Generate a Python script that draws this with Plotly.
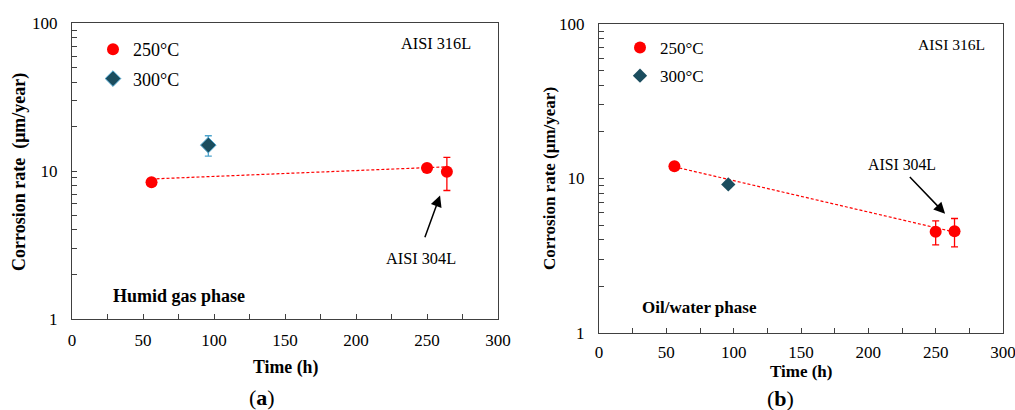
import plotly.graph_objects as go

W, H = 1015, 410

# ---------------- data ----------------
# (a) Humid gas phase
a_250_time = [56, 250, 264]
a_250_rate = [8.4, 10.5, 9.9]
a_250_err = [0, 0, 2.5]
a_300_time = [96]
a_300_rate = [15.0]
a_300_err = [2.35]
a_trend_time = [56, 264]
a_trend_rate = [8.85, 10.7]

# (b) Oil/water phase
b_250_time = [56, 250, 264]
b_250_rate = [12.0, 4.52, 4.56]
b_250_err = [0, 0.8, 0.95]
b_300_time = [96]
b_300_rate = [9.15]
b_trend_time = [56, 264]
b_trend_rate = [11.9, 4.5]

x_ticks = [0, 50, 100, 150, 200, 250, 300]
y_ticks = [1, 10, 100]
y_minor = [2, 3, 4, 5, 6, 7, 8, 9, 20, 30, 40, 50, 60, 70, 80, 90]

RED = "#FF0000"
TEAL = "#1B4D5E"
LIGHTBLUE = "#4DA3CC"
FONT = "'Liberation Serif', 'Times New Roman', serif"
AXC = "#404040"


def px(x, y):
    return x / W, 1 - y / H


fig = go.Figure()

# ---- panel (a) ----
fig.add_trace(go.Scatter(x=a_trend_time, y=a_trend_rate, mode="lines",
                         line=dict(color=RED, width=1.2, dash="3px,2px"),
                         showlegend=False, xaxis="x", yaxis="y", hoverinfo="skip"))
fig.add_trace(go.Scatter(x=a_250_time, y=a_250_rate, mode="markers", name="250°C",
                         marker=dict(symbol="circle", size=12, color=RED),
                         error_y=dict(type="data", array=a_250_err, color=RED,
                                      thickness=1.3, width=3.5),
                         legend="legend", legendgroup="a250", xaxis="x", yaxis="y"))
fig.add_trace(go.Scatter(x=a_300_time, y=a_300_rate, mode="markers", name="300°C",
                         marker=dict(symbol="diamond", size=12, color=TEAL,
                                     line=dict(color=LIGHTBLUE, width=1)),
                         error_y=dict(type="data", array=a_300_err, color=LIGHTBLUE,
                                      thickness=1.3, width=3.5),
                         legend="legend", legendgroup="a300", xaxis="x", yaxis="y"))

# ---- panel (b) ----
fig.add_trace(go.Scatter(x=b_trend_time, y=b_trend_rate, mode="lines",
                         line=dict(color=RED, width=1.2, dash="3px,2px"),
                         showlegend=False, xaxis="x2", yaxis="y2", hoverinfo="skip"))
fig.add_trace(go.Scatter(x=b_250_time, y=b_250_rate, mode="markers", name="250°C",
                         marker=dict(symbol="circle", size=12, color=RED),
                         error_y=dict(type="data", array=b_250_err, color=RED,
                                      thickness=1.3, width=3.5),
                         legend="legend2", legendgroup="b250", xaxis="x2", yaxis="y2"))
fig.add_trace(go.Scatter(x=b_300_time, y=b_300_rate, mode="markers", name="300°C",
                         marker=dict(symbol="diamond", size=11, color=TEAL),
                         legend="legend2", legendgroup="b300", xaxis="x2", yaxis="y2"))

xa = dict(range=[0, 300], tickvals=x_ticks, ticks="inside", ticklen=5, tickcolor=AXC,
          showline=True, linecolor=AXC, linewidth=1, mirror=True, showgrid=False,
          zeroline=False, tickfont=dict(family=FONT, size=17, color="#000"),
          minor=dict(dtick=25, ticks="inside", ticklen=5, tickcolor=AXC),
          ticklabelstandoff=6, automargin=False, ticklabeloverflow="allow")
ya = dict(type="log", range=[0, 2], tickvals=y_ticks, ticktext=["1", "10", "100"],
          ticks="inside", ticklen=5, tickcolor=AXC,
          showline=True, linecolor=AXC, linewidth=1, mirror=True, showgrid=False,
          zeroline=False, tickfont=dict(family=FONT, size=17, color="#000"),
          minor=dict(tickvals=y_minor, ticks="inside", ticklen=5, tickcolor=AXC),
          ticklabelstandoff=10, automargin=False, ticklabeloverflow="allow")

x1d = [72 / W, 498 / W]
y1d = [1 - 319 / H, 1 - 23.3 / H]
x2d = [599 / W, 1003 / W]
y2d = [1 - 333 / H, 1 - 24 / H]

fig.update_layout(
    width=W, height=H,
    margin=dict(l=0, r=0, t=0, b=0, autoexpand=False),
    paper_bgcolor="white", plot_bgcolor="white",
    font=dict(family=FONT, color="#000"),
    xaxis=dict(xa, domain=x1d, anchor="y"),
    yaxis=dict(ya, domain=y1d, anchor="x"),
    xaxis2=dict(xa, domain=x2d, anchor="y2", ticklabelstandoff=4),
    yaxis2=dict(ya, domain=y2d, anchor="x2"),
    legend=dict(x=px(93, 0)[0], y=px(0, 31)[1], xanchor="left", yanchor="top",
                bgcolor="rgba(0,0,0,0)", font=dict(family=FONT, size=18, color="#000"),
                tracegroupgap=3, itemsizing="trace"),
    legend2=dict(x=px(620, 0)[0], y=px(0, 30)[1], xanchor="left", yanchor="top",
                 bgcolor="rgba(0,0,0,0)", font=dict(family=FONT, size=17, color="#000"),
                 tracegroupgap=3, itemsizing="trace"),
    showlegend=True,
)

ann = []


def text(x, y, s, size=15, bold=False, angle=0, xanchor="center"):
    xx, yy = px(x, y)
    ann.append(dict(x=xx, y=yy, xref="paper", yref="paper", text=(f"<b>{s}</b>" if bold else s),
                    showarrow=False, textangle=angle, xanchor=xanchor, yanchor="middle",
                    font=dict(family=FONT, size=size, color="#000")))


# panel (a) texts
text(435.5, 44, "AISI 316L", 16.3)
text(421, 258, "AISI 304L", 16.3)
text(111, 296, "Humid gas phase", 18, bold=True, xanchor="left")
text(20, 172, "Corrosion rate\u00a0\u00a0(μm/year)", 18, bold=True, angle=-90)
text(285, 367, "Time (h)", 17.8, bold=True)
text(261.7, 397, "(<b>a</b>)", 22)
# panel (b) texts
text(951.7, 45, "AISI 316L", 15.6)
text(902, 164, "AISI 304L", 15.8)
text(640, 307, "Oil/water phase", 17, bold=True, xanchor="left")
text(550, 179, "Corrosion rate (μm/year)", 17, bold=True, angle=-90)
text(801.7, 371, "Time (h)", 17, bold=True)
text(780, 398, "(<b>b</b>)", 22)

# arrows
ann.append(dict(x=259.2, y=0.836, xref="x", yref="y", ax=-15.7, ay=43.3, text="",
                showarrow=True, arrowhead=2, arrowsize=1.5, arrowwidth=1.5,
                arrowcolor="#000", standoff=0))
ann.append(dict(x=257, y=0.772, xref="x2", yref="y2", ax=-36.7, ay=-38.3, text="",
                showarrow=True, arrowhead=2, arrowsize=1.5, arrowwidth=1.5,
                arrowcolor="#000", standoff=0))

fig.update_layout(annotations=ann)

fig.write_html("out.html", config=dict(displayModeBar=False),
               post_script="document.body.style.margin='0';document.body.style.overflow='hidden';")
